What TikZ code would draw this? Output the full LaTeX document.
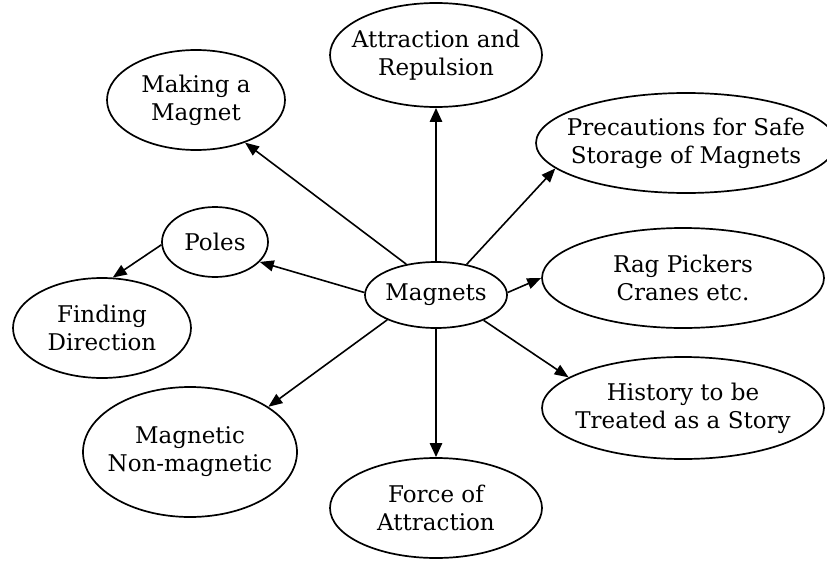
\documentclass[tikz,border=0pt]{standalone}
\usepackage{fontspec}
\setmainfont{DejaVu Serif}
\usetikzlibrary{shapes.geometric,arrows.meta}
\begin{document}
\begin{tikzpicture}[x=1pt,y=-1pt,
  topic/.style={ellipse,draw,line width=1.7pt,inner sep=0pt},
  txt/.style={align=center,font=\fontsize{23}{28}\selectfont},
  link/.style={line width=1.6pt,-{Triangle[length=14pt,width=11pt]}},
  biglink/.style={line width=2.6pt,-{Triangle[length=14pt,width=12pt]}}]
\useasboundingbox (0,0) rectangle (827,562);
\clip (0,0) rectangle (827,562);
\node[topic,minimum width=212pt,minimum height=104pt,label={[txt]center:Attraction and\\Repulsion}] (at) at (436,55) {};
\node[topic,minimum width=178pt,minimum height=100pt,label={[txt]center:Making a\\Magnet}] (mk) at (196,100) {};
\node[topic,minimum width=300pt,minimum height=100pt,label={[txt]center:Precautions for Safe\\Storage of Magnets}] (pr) at (686,143) {};
\node[topic,minimum width=106pt,minimum height=70pt,label={[txt]center:Poles}] (po) at (215,242) {};
\node[topic,minimum width=142pt,minimum height=66pt,label={[txt]center:Magnets}] (m) at (436,295) {};
\node[topic,minimum width=282pt,minimum height=100pt,label={[txt]center:Rag Pickers\\Cranes etc.}] (rg) at (683,278) {};
\node[topic,minimum width=178pt,minimum height=100pt,label={[txt]center:Finding\\Direction}] (fd) at (102,328) {};
\node[topic,minimum width=282pt,minimum height=102pt,label={[txt]center:History to be\\Treated as a Story}] (hi) at (683,408) {};
\node[topic,minimum width=214pt,minimum height=130pt,label={[txt]center:Magnetic\\Non-magnetic}] (mg) at (190,452) {};
\node[topic,minimum width=212pt,minimum height=100pt,label={[txt]center:Force of\\Attraction}] (fo) at (436,508) {};
\draw[biglink] (m.90) -- (at.-90);
\draw[biglink] (m.-90) -- (fo.90);
\draw[link] (m.134) -- (mk.-41);
\draw[link] (m.45) -- (pr.-169.6);
\draw[link] (m.178) -- (po.-24);
\draw[link] (m.2) -- (rg.180);
\draw[link] (m.-28) -- (hi.165);
\draw[link] (m.-153) -- (mg.30);
\draw[link] (po.183) -- (fd.78);
\end{tikzpicture}
\end{document}
